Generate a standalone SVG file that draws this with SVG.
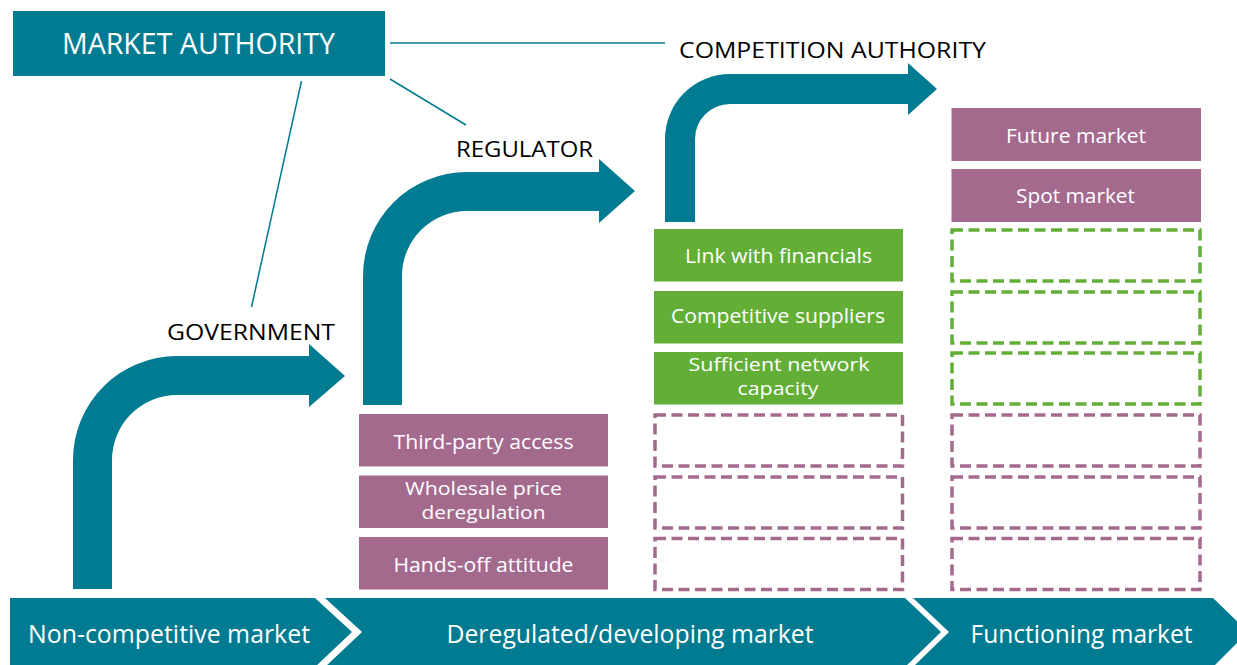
<svg xmlns="http://www.w3.org/2000/svg" width="1237" height="665" viewBox="0 0 1237 665">
  <style>
    .teal { fill: #007b91; }
    .purple { fill: #a46a8e; }
    .green { fill: #63ae37; }
    .dash-p { fill: none; stroke: #a46a8e; stroke-width: 3.5; stroke-dasharray: 11 5.5; }
    .dash-g { fill: none; stroke: #63ae37; stroke-width: 3.5; stroke-dasharray: 11 5.5; }
    .conn { stroke: #007b91; stroke-width: 1.5; fill: none; }
    text { font-family: "Open Sans", "Liberation Sans", sans-serif; text-anchor: middle; }
    .bt { fill: #ffffff; font-size: 19.5px; }
    .bt2 { fill: #ffffff; font-size: 18px; }
    .lbl { fill: #000000; font-size: 22px; }
    .band { fill: #ffffff; font-size: 26px; }
  </style>

  <g id="connectors">
    <line class="conn" x1="390" y1="43" x2="665" y2="43"/>
    <line class="conn" x1="390" y1="79" x2="466" y2="125"/>
    <line class="conn" x1="301.5" y1="81" x2="251.5" y2="307"/>
  </g>

  <g id="market-authority">
    <rect class="teal" x="13" y="11" width="372" height="65"/>
    <text x="198.5" y="54" fill="#ffffff" font-size="29" textLength="273" lengthAdjust="spacingAndGlyphs">MARKET AUTHORITY</text>
  </g>

  <g id="competition-authority">
    <text class="lbl" x="832.5" y="58" font-size="23" textLength="307" lengthAdjust="spacingAndGlyphs">COMPETITION AUTHORITY</text>
  </g>
  <g id="regulator">
    <text class="lbl" x="524.5" y="157" textLength="137" lengthAdjust="spacingAndGlyphs">REGULATOR</text>
  </g>
  <g id="government">
    <text class="lbl" x="251" y="340" textLength="168" lengthAdjust="spacingAndGlyphs">GOVERNMENT</text>
  </g>

  <g id="arrow-government">
    <path class="teal" d="M73,589 V460 A104,104 0 0 1 177,356 H309 V344 L345,376 L309,407 V395 H177 A65,65 0 0 0 112,460 V589 Z"/>
  </g>
  <g id="arrow-regulator">
    <path class="teal" d="M363,405 V276 A104,104 0 0 1 467,172 H599 V159 L635,191 L599,223 V211 H467 A65,65 0 0 0 402,276 V405 Z"/>
  </g>
  <g id="arrow-competition">
    <path class="teal" d="M665,222 V139 A65,65 0 0 1 730,74 H908 V63 L937,89 L908,115 V104 H730 A35,35 0 0 0 695,139 V222 Z"/>
  </g>

  <!-- Column 1 -->
  <g id="third-party-access">
    <rect class="purple" x="359" y="414" width="249" height="52.5"/>
    <text class="bt" x="483.5" y="449" textLength="180" lengthAdjust="spacingAndGlyphs">Third-party access</text>
  </g>
  <g id="wholesale-price-deregulation">
    <rect class="purple" x="359" y="475.5" width="249" height="52.5"/>
    <text class="bt2" x="483.5" y="495" textLength="157" lengthAdjust="spacingAndGlyphs">Wholesale price</text>
    <text class="bt2" x="483.5" y="519" textLength="124" lengthAdjust="spacingAndGlyphs">deregulation</text>
  </g>
  <g id="hands-off-attitude">
    <rect class="purple" x="359" y="537" width="249" height="52.5"/>
    <text class="bt" x="483.5" y="572" textLength="180" lengthAdjust="spacingAndGlyphs">Hands-off attitude</text>
  </g>

  <!-- Column 2 -->
  <g id="link-with-financials">
    <rect class="green" x="654" y="229" width="249" height="52.5"/>
    <text class="bt" x="778.5" y="263" textLength="187" lengthAdjust="spacingAndGlyphs">Link with financials</text>
  </g>
  <g id="competitive-suppliers">
    <rect class="green" x="654" y="291" width="249" height="52.5"/>
    <text class="bt" x="778" y="323" textLength="214" lengthAdjust="spacingAndGlyphs">Competitive suppliers</text>
  </g>
  <g id="sufficient-network-capacity">
    <rect class="green" x="654" y="352" width="249" height="52.5"/>
    <text class="bt2" x="779" y="371" textLength="181" lengthAdjust="spacingAndGlyphs">Sufficient network</text>
    <text class="bt2" x="778" y="395" textLength="81" lengthAdjust="spacingAndGlyphs">capacity</text>
  </g>
  <g id="col2-empty-1"><rect class="dash-p" x="655" y="415" width="247.5" height="51"/></g>
  <g id="col2-empty-2"><rect class="dash-p" x="655" y="477" width="247.5" height="51"/></g>
  <g id="col2-empty-3"><rect class="dash-p" x="655" y="538.5" width="247.5" height="51"/></g>

  <!-- Column 3 -->
  <g id="future-market">
    <rect class="purple" x="951.5" y="108" width="249.5" height="53"/>
    <text class="bt" x="1076" y="143" textLength="140" lengthAdjust="spacingAndGlyphs">Future market</text>
  </g>
  <g id="spot-market">
    <rect class="purple" x="951.5" y="169" width="249.5" height="53"/>
    <text class="bt" x="1075.5" y="203" textLength="119" lengthAdjust="spacingAndGlyphs">Spot market</text>
  </g>
  <g id="col3-empty-green-1"><rect class="dash-g" x="952" y="230" width="248" height="51"/></g>
  <g id="col3-empty-green-2"><rect class="dash-g" x="952" y="292" width="248" height="51"/></g>
  <g id="col3-empty-green-3"><rect class="dash-g" x="952" y="353" width="248" height="51"/></g>
  <g id="col3-empty-purple-1"><rect class="dash-p" x="952" y="415" width="248" height="51"/></g>
  <g id="col3-empty-purple-2"><rect class="dash-p" x="952" y="477" width="248" height="51"/></g>
  <g id="col3-empty-purple-3"><rect class="dash-p" x="952" y="538.5" width="248" height="51"/></g>

  <!-- Bottom stages -->
  <g id="stage-non-competitive">
    <path class="teal" d="M10,598 H315 L352,632 L315,667 H10 Z"/>
    <text class="band" x="169" y="643" textLength="282" lengthAdjust="spacingAndGlyphs">Non-competitive market</text>
  </g>
  <g id="stage-deregulated">
    <path class="teal" d="M325,598 H905 L941,632 L905,667 H325 L362,632 Z"/>
    <text class="band" x="630" y="643" textLength="367" lengthAdjust="spacingAndGlyphs">Deregulated/developing market</text>
  </g>
  <g id="stage-functioning">
    <path class="teal" d="M913,598 H1213 L1248,632 L1213,667 H913 L949,632 Z"/>
    <text class="band" x="1081.5" y="643" textLength="222" lengthAdjust="spacingAndGlyphs">Functioning market</text>
  </g>
</svg>
